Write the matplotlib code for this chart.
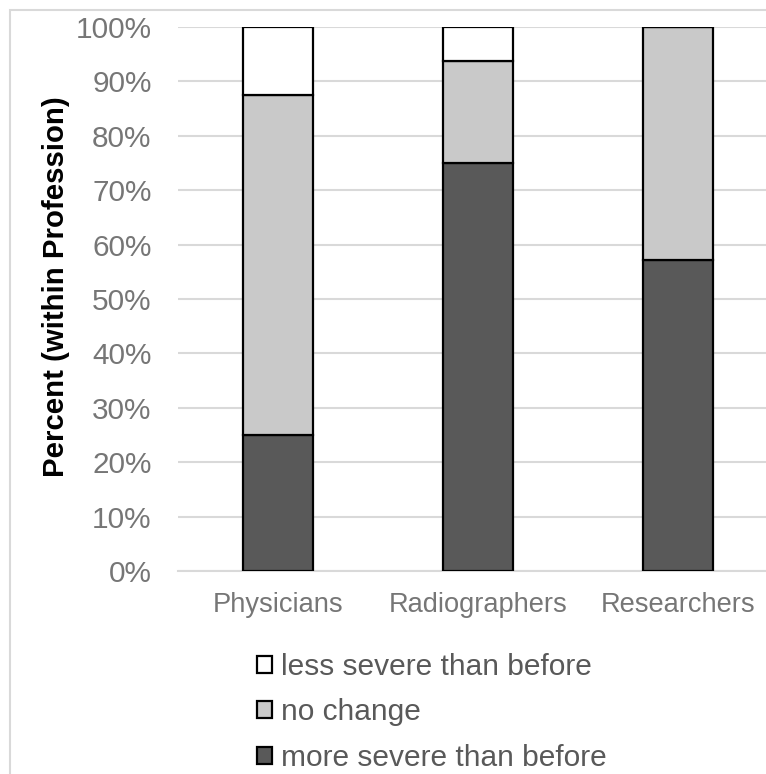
import matplotlib.pyplot as plt
import matplotlib.patches as mpatches
import numpy as np

plt.rcParams['font.family'] = ['Liberation Sans', 'DejaVu Sans']

professions = ['Physicians', 'Radiographers', 'Researchers']
more_severe = [25.0, 75.0, 57.1]
no_change = [62.5, 18.75, 42.9]
less_severe = [12.5, 6.25, 0.0]
yticks = np.arange(0, 101, 10)

fig = plt.figure(figsize=(7.66, 7.74), dpi=100)
ax = fig.add_axes([178 / 766, 1 - 571 / 774, 600 / 766, 544 / 774])

# outer chart frame
fig.patches.append(mpatches.Rectangle((10 / 766, -0.1), 1.2, 0.1 + 1 - 10 / 774,
                                      transform=fig.transFigure, fill=False,
                                      edgecolor='#d9d9d9', linewidth=1.5))

x = np.arange(len(professions))
w = 0.35
b1 = ax.bar(x, more_severe, w, color='#595959', edgecolor='black', linewidth=1.6,
            label='more severe than before', zorder=3)
b2 = ax.bar(x, no_change, w, bottom=more_severe, color='#c9c9c9', edgecolor='black',
            linewidth=1.6, label='no change', zorder=3)
bottom3 = np.array(more_severe) + np.array(no_change)
b3 = ax.bar(x, less_severe, w, bottom=bottom3, color='white', edgecolor='black',
            linewidth=1.6, label='less severe than before', zorder=3)

ax.set_xlim(-0.5, 2.5)
ax.set_ylim(0, 100)
ax.set_yticks(yticks)
ax.set_yticklabels([f'{v}%' for v in yticks])
ax.set_xticks(x)
ax.set_xticklabels(professions)
ax.tick_params(axis='both', length=0, labelcolor='#767676')
ax.tick_params(axis='y', pad=19, labelsize=21.4)
ax.tick_params(axis='x', pad=15, labelsize=19.6)
ax.yaxis.grid(True, color='#d9d9d9', linewidth=1.5, zorder=0)
for s in ['top', 'right', 'left']:
    ax.spines[s].set_visible(False)
ax.spines['bottom'].set_color('#d9d9d9')
ax.spines['bottom'].set_linewidth(1.5)

ax.set_ylabel('Percent (within Profession)', fontsize=21.2, fontweight='bold',
              color='black', va='center')
ax.yaxis.set_label_coords(-0.2033, 0.522)

leg = fig.legend(handles=[b3, b2, b1], loc='upper left',
                 bbox_to_anchor=(257 / 766, 1 - 653 / 774), frameon=False,
                 fontsize=21.5, labelcolor='#595959', handlelength=0.5,
                 handleheight=0.5, handletextpad=0.3, labelspacing=0.58,
                 borderpad=0, borderaxespad=0)

fig.savefig('out.png', dpi=100)
